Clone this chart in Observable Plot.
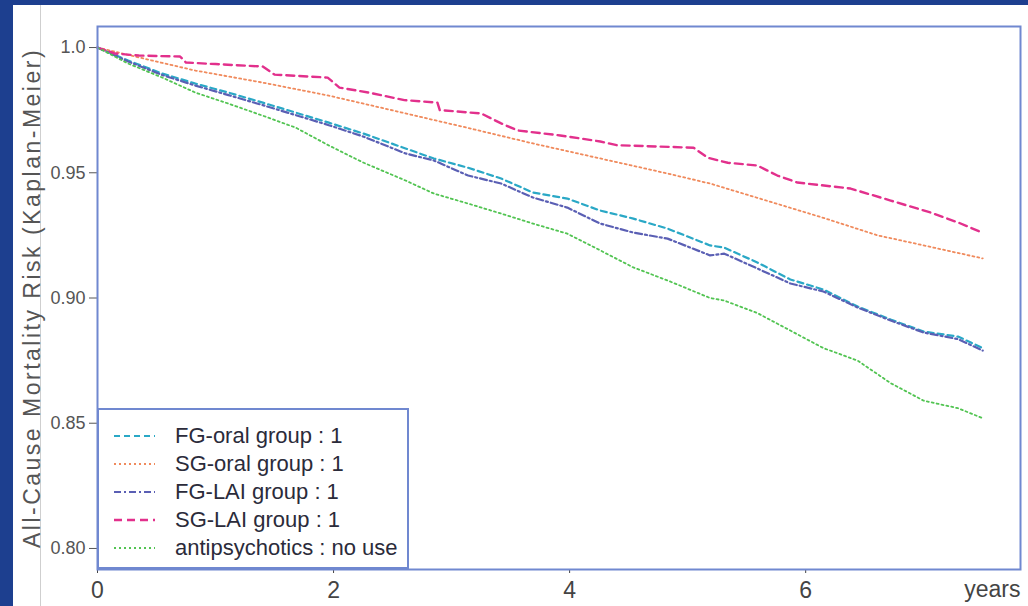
<!DOCTYPE html>
<html><head><meta charset="utf-8">
<script src="https://cdn.jsdelivr.net/npm/d3@7"></script>
<script src="https://cdn.jsdelivr.net/npm/@observablehq/plot@0.6"></script>
<style>
html,body{margin:0;padding:0;background:#fff;}
#wrap{position:relative;width:1028px;height:606px;background:#1d3f8f;overflow:hidden;font-family:"Liberation Sans",Arial,sans-serif;}
#panel{position:absolute;left:13px;top:5px;width:1015px;height:601px;background:#fff;}
#panel > svg{position:absolute;left:0;top:0;}
#panel > svg g[aria-label="y-axis label"] text{letter-spacing:2.5px;}
#panel > svg g[aria-label="x-axis label"]{translate:-5px 0px;}
#vline{position:absolute;left:27px;top:0;width:1px;height:601px;background:#cfcfcf;}
#legend{position:absolute;left:84px;top:403px;width:308px;height:145px;border:2px solid #7088d0;background:#fff;padding-top:12px;box-sizing:content-box;}
.row{display:flex;align-items:center;height:28px;}
.row svg{margin-left:15px;margin-right:20px;flex:none;}
.row span{font-size:22px;color:#2b2b3a;white-space:nowrap;}
</style></head>
<body><div id="wrap"><div id="panel"><div id="vline"></div></div></div>
<script>
// ---- data ----
const seriesNames = ["FG-oral group : 1","SG-oral group : 1","FG-LAI group : 1","SG-LAI group : 1","antipsychotics : no use"];
const seriesColors = ["#2aa8c6","#f08a5c","#5a5fb4","#e2308c","#52c452"];
const seriesDash = ["6,4","2,3","7,3,2,3","8,5","2,3"];
const seriesWidth = [2.2,1.8,2.2,2.4,1.8];

const fgOralT = [0,0.26,0.55,0.83,1.11,1.40,1.68,1.96,2.25,2.61,2.85,3.14,3.42,3.69,3.98,4.26,4.54,4.83,5.19,5.31,5.59,5.87,6.15,6.44,6.72,7.0,7.29,7.5];
const fgOralS = [1.0,0.9948,0.9896,0.9856,0.982,0.978,0.974,0.970,0.9657,0.9597,0.9557,0.952,0.9477,0.9421,0.9397,0.9349,0.9317,0.9277,0.921,0.9201,0.9142,0.9074,0.9034,0.8966,0.8914,0.8866,0.8846,0.880];

const sgOralT = [0,0.4,0.83,1.40,1.96,2.61,3.13,3.69,4.26,4.83,5.19,5.59,6.15,6.61,7.0,7.5];
const sgOralS = [1.0,0.9955,0.9908,0.986,0.9808,0.9737,0.968,0.9617,0.9557,0.9497,0.9457,0.940,0.932,0.925,0.921,0.9158];

const fgLaiT = [0,0.26,0.55,0.83,1.11,1.40,1.68,1.96,2.25,2.61,2.85,3.14,3.42,3.69,3.98,4.26,4.54,4.83,5.19,5.31,5.59,5.87,6.15,6.44,6.72,7.0,7.29,7.5];
const fgLaiS = [1.0,0.9944,0.989,0.9848,0.981,0.977,0.973,0.969,0.9645,0.9577,0.9549,0.9489,0.9457,0.9401,0.9361,0.9297,0.9261,0.9237,0.917,0.9177,0.9118,0.9058,0.9026,0.8962,0.891,0.8862,0.8836,0.879];

const sgLaiT = [0,0.15,0.35,0.7,0.75,1.0,1.4,1.5,1.95,2.05,2.3,2.6,2.88,2.9,3.25,3.42,3.56,3.92,4.26,4.4,5.05,5.17,5.34,5.59,5.76,5.93,6.38,6.72,7.06,7.3,7.5];
const sgLaiS = [1.0,0.9976,0.9968,0.9964,0.994,0.9934,0.9924,0.9892,0.988,0.984,0.982,0.979,0.978,0.975,0.9737,0.9697,0.9669,0.9649,0.9625,0.961,0.960,0.956,0.954,0.9529,0.9489,0.9461,0.9437,0.9389,0.9341,0.930,0.926];

const noUseT = [0,0.26,0.55,0.83,1.11,1.40,1.68,1.96,2.25,2.61,2.85,3.14,3.42,3.69,3.98,4.26,4.54,4.83,5.19,5.31,5.59,5.87,6.15,6.44,6.72,7.0,7.29,7.5];
const noUseS = [1.0,0.9936,0.988,0.982,0.9776,0.9728,0.968,0.9609,0.9541,0.9469,0.9417,0.9377,0.9337,0.9297,0.9257,0.919,0.9122,0.907,0.900,0.899,0.894,0.887,0.880,0.875,0.866,0.859,0.856,0.852];

const xTicks = [0,2,4,6];
const yTicks = [0.80,0.85,0.90,0.95,1.0];
const yLabel = "All-Cause Mortality Risk (Kaplan-Meier)";
const xLabel = "years";

// ---- build table ----
const seriesT = [fgOralT, sgOralT, fgLaiT, sgLaiT, noUseT];
const seriesS = [fgOralS, sgOralS, fgLaiS, sgLaiS, noUseS];
const rows = [];
seriesNames.forEach((name, i) => seriesT[i].forEach((t, j) => rows.push({series: name, t, s: seriesS[i][j]})));

const font = "Liberation Sans, Arial, sans-serif";
const chart = Plot.plot({
  width: 1015, height: 601,
  marginLeft: 84, marginTop: 21, marginRight: 8, marginBottom: 37,
  style: {fontFamily: font, background: "transparent", overflow: "visible"},
  x: {domain: [0, 7.82]},
  y: {domain: [0.7916, 1.0084]},
  marks: [
    Plot.axisY({ticks: yTicks, tickFormat: d => d === 1 ? "1.0" : d.toFixed(2), fontSize: 18, tickSize: 8, tickPadding: 4, color: "#555", label: null}),
    Plot.axisY({ticks: [], label: yLabel, labelAnchor: "center", labelArrow: "none", labelOffset: 74, fontSize: 23, color: "#555", tickSize: 0}),
    Plot.axisX({ticks: xTicks, fontSize: 23, tickSize: 4, tickPadding: 8, color: "#444", label: null}),
    Plot.axisX({ticks: [], label: xLabel, labelAnchor: "right", labelArrow: "none", labelOffset: 27, fontSize: 23, color: "#444", tickSize: 0}),
    ...seriesNames.map((name, i) => Plot.line(rows.filter(r => r.series === name), {
      x: "t", y: "s", stroke: seriesColors[i], strokeWidth: seriesWidth[i], strokeDasharray: seriesDash[i]
    })),
    Plot.frame({stroke: "#7088d0", strokeWidth: 2})
  ]
});
const panel = document.getElementById("panel");
panel.appendChild(chart);

// ---- legend ----
const legend = document.createElement("div");
legend.id = "legend";
seriesNames.forEach((name, i) => {
  const row = document.createElement("div");
  row.className = "row";
  row.innerHTML = `<svg width="41" height="6"><line x1="0" y1="3" x2="41" y2="3" stroke="${seriesColors[i]}" stroke-width="${seriesWidth[i]}" stroke-dasharray="${seriesDash[i]}"/></svg><span>${name}</span>`;
  legend.appendChild(row);
});
panel.appendChild(legend);
</script>
</body></html>
